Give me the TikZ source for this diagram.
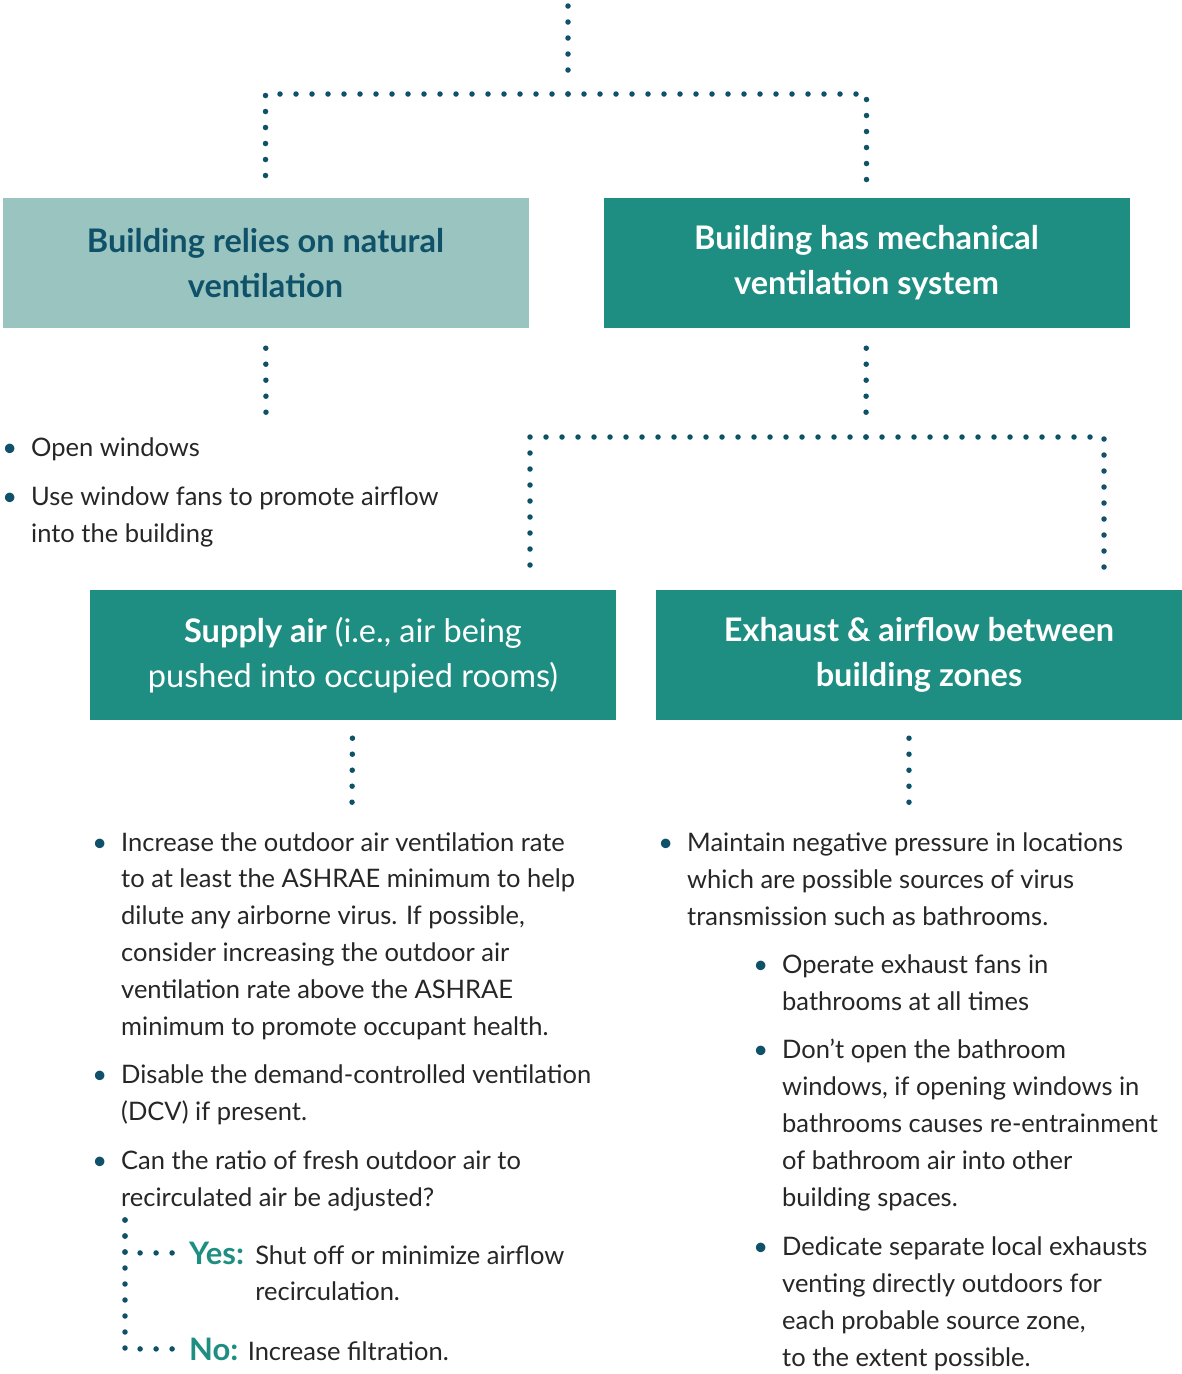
\documentclass[tikz,border=0pt]{standalone}
\usepackage{fontspec}
\setmainfont{Lato}
\usepackage{tikz}
\usetikzlibrary{calc}
\definecolor{dotblue}{HTML}{0F5168}
\definecolor{tealbox}{HTML}{1D8E81}
\definecolor{palebox}{HTML}{9AC4C0}
\definecolor{bodytext}{HTML}{262626}
\tikzstyle{pale_box} = [rectangle, minimum width=526pt, minimum height=130pt, inner sep=0pt, align=center, fill=palebox, text=dotblue, font=\fontsize{32.5}{45}\selectfont\bfseries]
\tikzstyle{teal_box} = [pale_box, fill=tealbox, text=white]
\tikzstyle{item_text} = [inner sep=0pt, anchor=base west, align=left, text=bodytext, font=\fontsize{25.5}{36.8}\selectfont]
\tikzstyle{answer} = [inner sep=0pt, anchor=base west, text=tealbox, font=\fontsize{31}{36}\selectfont\bfseries]
\tikzstyle{dot_line} = [draw=dotblue, line width=5.5pt, line cap=round, dash pattern=on 0pt off 16pt]
\newcommand{\bul}{\llap{\textcolor{dotblue}{\textbullet}\hspace{14pt}}}

\begin{document}
\begin{tikzpicture}[x=1pt, y=-1pt]
        \useasboundingbox (0,0) rectangle (1182,1374);

        \node(nat) [pale_box] at (265.5,263) {Building relies on natural\\ventilation};
        \node(mech) [teal_box] at (866.5,263) {Building has mechanical\\ventilation system};
        \node(sup) [teal_box] at (353,655) {Supply air \mdseries(i.e., air being\\\mdseries pushed into occupied rooms)};
        \node(exh) [teal_box] at (919,655) {Exhaust \& airflow between\\building zones};

        \coordinate(top) at (568,6);
        \coordinate(split1) at (568,94);
        \coordinate(nat_end) at (266,415);
        \coordinate(split2) at (866,437);
        \coordinate(left_drop) at (530,575);
        \coordinate(right_drop) at (1104,575);
        \coordinate(sup_end) at (352,806);
        \coordinate(exh_end) at (909,806);
        \coordinate(yn_top) at (125,1220);

        \draw[dot_line, shorten >=20pt] (top) -- (split1);
        \draw[dot_line, shorten >=18pt] (split1) -| (nat);
        \draw[dot_line, shorten >=16pt] (split1) -| (mech);
        \draw[dot_line, shorten <=20pt] (nat) -- (nat_end);
        \draw[dot_line, shorten <=20pt, shorten >=20pt] (mech) -- (split2);
        \draw[dot_line] (split2) -| (left_drop);
        \draw[dot_line] (split2) -| (right_drop);
        \draw[dot_line, shorten <=18pt] (sup) -- (sup_end);
        \draw[dot_line, shorten <=18pt] (exh.south -| exh_end) -- (exh_end);

        \node(open_win) [item_text] at (31,456) {\bul Open windows};
        \node(win_fans) [item_text] at (31,542) {\bul Use window fans to promote airflow\\into the building};

        \node(sup_rate) [item_text] at (121,1035) {\bul Increase the outdoor air ventilation rate\\to at least the ASHRAE minimum to help\\dilute any airborne virus. If possible,\\consider increasing the outdoor air\\ventilation rate above the ASHRAE\\minimum to promote occupant health.};
        \node(sup_dcv) [item_text] at (121,1120) {\bul Disable the demand-controlled ventilation\\(DCV) if present.};
        \node(sup_ratio) [item_text] at (121,1206) {\bul Can the ratio of fresh outdoor air to\\recirculated air be adjusted?};

        \node(yes) [answer] at (189,1264) {Yes:};
        \node(yes_text) [item_text, xshift=11pt, yshift=-36.8pt] at (yes.base east) {Shut off or minimize airflow\\recirculation.};
        \node(no) [answer] at (189,1360) {No:};
        \node(no_text) [item_text, xshift=9pt] at (no.base east) {Increase filtration.};
        \draw[dot_line, shorten >=15pt] (yn_top) |- (yes.west);
        \draw[dot_line, shorten >=15pt] (yn_top) |- (no.west);

        \node(exh_neg) [item_text] at (687,925) {\bul Maintain negative pressure in locations\\which are possible sources of virus\\transmission such as bathrooms.};
        \node(exh_fans) [item_text] at (782,1010) {\bul Operate exhaust fans in\\bathrooms at all times};
        \node(exh_windows) [item_text] at (782,1206) {\bul Don't open the bathroom\\windows, if opening windows in\\bathrooms causes re-entrainment\\of bathroom air into other\\building spaces.};
        \node(exh_local) [item_text] at (782,1366) {\bul Dedicate separate local exhausts\\venting directly outdoors for\\each probable source zone,\\to the extent possible.};
\end{tikzpicture}
\end{document}
